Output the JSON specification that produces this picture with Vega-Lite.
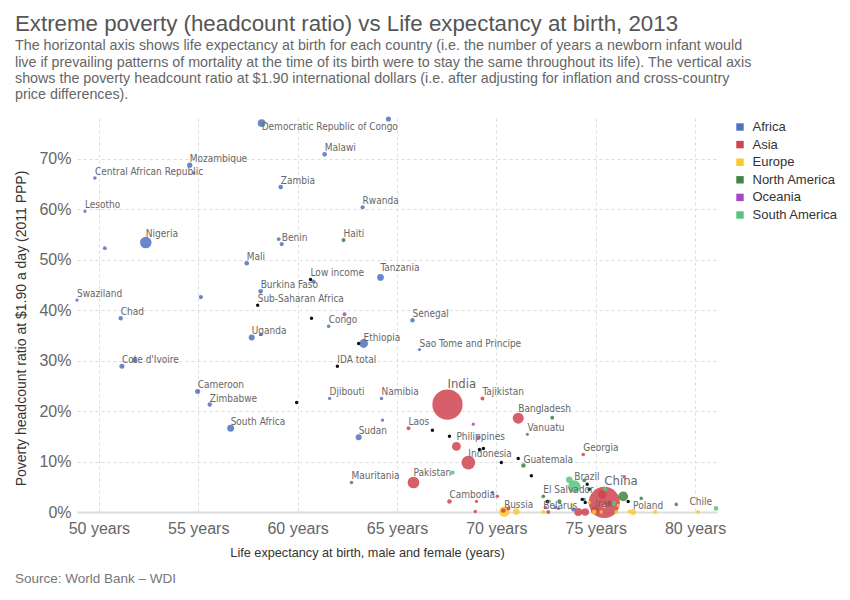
{
  "$schema": "https://vega.github.io/schema/vega-lite/v6.json",
  "description": "Extreme poverty vs life expectancy, 2013",
  "padding": {"left": 14, "top": 12, "right": 0, "bottom": 0},
  "title": {
    "text": "Extreme poverty (headcount ratio) vs Life expectancy at birth, 2013",
    "subtitle": [
      "The horizontal axis shows life expectancy at birth for each country (i.e. the number of years a newborn infant would",
      "live if prevailing patterns of mortality at the time of its birth were to stay the same throughout its life). The vertical axis",
      "shows the poverty headcount ratio at $1.90 international dollars (i.e. after adjusting for inflation and cross-country",
      "price differences)."
    ],
    "anchor": "start",
    "frame": "bounds",
    "fontSize": 22.3,
    "fontWeight": "normal",
    "color": "#555",
    "subtitleFontSize": 14.3,
    "subtitleColor": "#666",
    "subtitleLineHeight": 16.3,
    "subtitlePadding": 4,
    "offset": 14
  },
  "datasets": {
    "countries": [
      {"c": "Democratic Republic of Congo", "g": "Africa", "le": 58.19, "pov": 77.1, "pop": 72, "label": "Democratic Republic of Congo"},
      {"c": "Madagascar", "g": "Africa", "le": 64.57, "pov": 77.9, "pop": 23},
      {"c": "Malawi", "g": "Africa", "le": 61.36, "pov": 70.9, "pop": 16, "label": "Malawi"},
      {"c": "Mozambique", "g": "Africa", "le": 54.57, "pov": 68.75, "pop": 26, "label": "Mozambique"},
      {"c": "Guinea-Bissau", "g": "Africa", "le": 54.77, "pov": 67.2, "pop": 1.7},
      {"c": "Central African Republic", "g": "Africa", "le": 49.8, "pov": 66.2, "pop": 4.6, "label": "Central African Republic"},
      {"c": "Zambia", "g": "Africa", "le": 59.15, "pov": 64.4, "pop": 15, "label": "Zambia"},
      {"c": "Rwanda", "g": "Africa", "le": 63.27, "pov": 60.4, "pop": 11, "label": "Rwanda"},
      {"c": "Lesotho", "g": "Africa", "le": 49.3, "pov": 59.6, "pop": 2, "label": "Lesotho"},
      {"c": "Sierra Leone", "g": "Africa", "le": 50.3, "pov": 52.3, "pop": 6},
      {"c": "Nigeria", "g": "Africa", "le": 52.36, "pov": 53.4, "pop": 173, "label": "Nigeria"},
      {"c": "Togo", "g": "Africa", "le": 59.05, "pov": 54.1, "pop": 7},
      {"c": "Benin", "g": "Africa", "le": 59.2, "pov": 53.1, "pop": 10, "label": "Benin"},
      {"c": "Mali", "g": "Africa", "le": 57.44, "pov": 49.3, "pop": 16, "label": "Mali"},
      {"c": "Tanzania", "g": "Africa", "le": 64.17, "pov": 46.5, "pop": 49, "label": "Tanzania"},
      {"c": "Burundi", "g": "Africa", "le": 60.8, "pov": 45.7, "pop": 10},
      {"c": "Burkina Faso", "g": "Africa", "le": 58.14, "pov": 43.75, "pop": 17, "label": "Burkina Faso"},
      {"c": "Guinea", "g": "Africa", "le": 55.13, "pov": 42.6, "pop": 12},
      {"c": "Swaziland", "g": "Africa", "le": 48.9, "pov": 42.0, "pop": 1.2, "label": "Swaziland"},
      {"c": "Chad", "g": "Africa", "le": 51.1, "pov": 38.4, "pop": 13, "label": "Chad"},
      {"c": "Congo", "g": "Africa", "le": 61.56, "pov": 36.8, "pop": 4.4, "label": "Congo"},
      {"c": "Senegal", "g": "Africa", "le": 65.78, "pov": 38.0, "pop": 14, "label": "Senegal"},
      {"c": "Uganda", "g": "Africa", "le": 57.69, "pov": 34.6, "pop": 37, "label": "Uganda"},
      {"c": "Liberia", "g": "Africa", "le": 58.14, "pov": 35.2, "pop": 4.3},
      {"c": "Ethiopia", "g": "Africa", "le": 63.32, "pov": 33.4, "pop": 95, "label": "Ethiopia"},
      {"c": "Sao Tome and Principe", "g": "Africa", "le": 66.13, "pov": 32.2, "pop": 0.19, "label": "Sao Tome and Principe"},
      {"c": "Cote d'Ivoire", "g": "Africa", "le": 51.16, "pov": 28.9, "pop": 22, "label": "Cote d'Ivoire"},
      {"c": "Angola", "g": "Africa", "le": 51.8, "pov": 30.1, "pop": 25},
      {"c": "Cameroon", "g": "Africa", "le": 54.97, "pov": 23.9, "pop": 22, "label": "Cameroon"},
      {"c": "Zimbabwe", "g": "Africa", "le": 55.58, "pov": 21.3, "pop": 14, "label": "Zimbabwe"},
      {"c": "South Africa", "g": "Africa", "le": 56.63, "pov": 16.6, "pop": 53, "label": "South Africa"},
      {"c": "Djibouti", "g": "Africa", "le": 61.61, "pov": 22.5, "pop": 0.9, "label": "Djibouti"},
      {"c": "Namibia", "g": "Africa", "le": 64.22, "pov": 22.5, "pop": 2.3, "label": "Namibia"},
      {"c": "Botswana", "g": "Africa", "le": 64.27, "pov": 18.2, "pop": 2},
      {"c": "Sudan", "g": "Africa", "le": 63.07, "pov": 14.8, "pop": 37, "label": "Sudan"},
      {"c": "Mauritania", "g": "Africa", "le": 62.71, "pov": 5.85, "pop": 3.9, "label": "Mauritania"},
      {"c": "Cabo Verde", "g": "Africa", "le": 72.96, "pov": 0.9, "pop": 0.5},
      {"c": "Tunisia", "g": "Africa", "le": 73.87, "pov": 0.5, "pop": 11},
      {"c": "Mauritius", "g": "Africa", "le": 74.42, "pov": 2.5, "pop": 1.3},
      {"c": "India", "g": "Asia", "le": 67.54, "pov": 21.3, "pop": 1280, "label": "India"},
      {"c": "Laos", "g": "Asia", "le": 65.58, "pov": 16.6, "pop": 6.7, "label": "Laos"},
      {"c": "Tajikistan", "g": "Asia", "le": 69.3, "pov": 22.5, "pop": 8, "label": "Tajikistan"},
      {"c": "Philippines", "g": "Asia", "le": 67.99, "pov": 13.0, "pop": 98, "label": "Philippines"},
      {"c": "Kyrgyzstan", "g": "Asia", "le": 69.1, "pov": 14.8, "pop": 5.7},
      {"c": "Indonesia", "g": "Asia", "le": 68.59, "pov": 9.8, "pop": 250, "label": "Indonesia"},
      {"c": "Bangladesh", "g": "Asia", "le": 71.1, "pov": 18.6, "pop": 157, "label": "Bangladesh"},
      {"c": "Georgia", "g": "Asia", "le": 74.37, "pov": 11.4, "pop": 4.5, "label": "Georgia"},
      {"c": "Pakistan", "g": "Asia", "le": 65.83, "pov": 5.85, "pop": 180, "label": "Pakistan"},
      {"c": "Cambodia", "g": "Asia", "le": 67.64, "pov": 2.1, "pop": 15, "label": "Cambodia"},
      {"c": "Bhutan", "g": "Asia", "le": 69.0, "pov": 2.1, "pop": 0.75},
      {"c": "Mongolia", "g": "Asia", "le": 68.94, "pov": 0.1, "pop": 2.9},
      {"c": "Armenia", "g": "Asia", "le": 70.05, "pov": 3.1, "pop": 3},
      {"c": "Kazakhstan", "g": "Asia", "le": 70.35, "pov": 0.3, "pop": 17},
      {"c": "Azerbaijan", "g": "Asia", "le": 70.6, "pov": 0.7, "pop": 9.4},
      {"c": "China", "g": "Asia", "le": 75.43, "pov": 1.9, "pop": 1357, "label": "China"},
      {"c": "Vietnam", "g": "Asia", "le": 75.33, "pov": 3.5, "pop": 90},
      {"c": "Palestine", "g": "Asia", "le": 76.43, "pov": 7.0, "pop": 4.2},
      {"c": "Jordan", "g": "Asia", "le": 72.61, "pov": 0.0, "pop": 6.5},
      {"c": "Turkey", "g": "Asia", "le": 74.12, "pov": 0.0, "pop": 75},
      {"c": "Thailand", "g": "Asia", "le": 74.47, "pov": 0.0, "pop": 67},
      {"c": "Iran", "g": "Asia", "le": 74.97, "pov": 0.3, "pop": 77, "label": "Iran"},
      {"c": "Malaysia", "g": "Asia", "le": 75.68, "pov": 1.7, "pop": 29},
      {"c": "Russia", "g": "Europe", "le": 70.4, "pov": 0.1, "pop": 143, "label": "Russia"},
      {"c": "Ukraine", "g": "Europe", "le": 71.0, "pov": 0.1, "pop": 45},
      {"c": "Belarus", "g": "Europe", "le": 72.36, "pov": 0.0, "pop": 9.5, "label": "Belarus"},
      {"c": "Moldova", "g": "Europe", "le": 73.82, "pov": 1.3, "pop": 3.5},
      {"c": "Macedonia", "g": "Europe", "le": 74.67, "pov": 1.9, "pop": 2.1},
      {"c": "Romania", "g": "Europe", "le": 74.92, "pov": 0.0, "pop": 20},
      {"c": "Bosnia and Herzegovina", "g": "Europe", "le": 75.28, "pov": 0.0, "pop": 3.8},
      {"c": "Albania", "g": "Europe", "le": 75.43, "pov": 1.1, "pop": 2.9},
      {"c": "Hungary", "g": "Europe", "le": 76.03, "pov": 0.0, "pop": 9.9},
      {"c": "Latvia", "g": "Europe", "le": 76.13, "pov": 1.3, "pop": 2},
      {"c": "Lithuania", "g": "Europe", "le": 76.68, "pov": 0.1, "pop": 3},
      {"c": "Poland", "g": "Europe", "le": 76.88, "pov": 0.0, "pop": 38, "label": "Poland"},
      {"c": "Czech Republic", "g": "Europe", "le": 77.99, "pov": 0.0, "pop": 10.5},
      {"c": "Portugal", "g": "Europe", "le": 80.15, "pov": 0.0, "pop": 10.5},
      {"c": "Haiti", "g": "North America", "le": 62.31, "pov": 53.9, "pop": 10, "label": "Haiti"},
      {"c": "Honduras", "g": "North America", "le": 72.81, "pov": 18.7, "pop": 8},
      {"c": "Guatemala", "g": "North America", "le": 71.36, "pov": 9.2, "pop": 15, "label": "Guatemala"},
      {"c": "El Salvador", "g": "North America", "le": 72.36, "pov": 3.1, "pop": 6.3, "label": "El Salvador"},
      {"c": "Dominican Republic", "g": "North America", "le": 73.17, "pov": 2.1, "pop": 10},
      {"c": "Nicaragua", "g": "North America", "le": 74.42, "pov": 6.25, "pop": 6},
      {"c": "Mexico", "g": "North America", "le": 76.38, "pov": 3.1, "pop": 122},
      {"c": "Panama", "g": "North America", "le": 77.29, "pov": 2.7, "pop": 3.8},
      {"c": "Costa Rica", "g": "North America", "le": 79.05, "pov": 1.5, "pop": 4.8},
      {"c": "Papua New Guinea", "g": "Oceania", "le": 62.36, "pov": 39.2, "pop": 7.3},
      {"c": "Solomon Islands", "g": "Oceania", "le": 68.84, "pov": 17.4, "pop": 0.56},
      {"c": "Vanuatu", "g": "Oceania", "le": 71.56, "pov": 15.4, "pop": 0.25, "label": "Vanuatu"},
      {"c": "Fiji", "g": "Oceania", "le": 69.8, "pov": 3.9, "pop": 0.88},
      {"c": "Tonga", "g": "Oceania", "le": 72.46, "pov": 0.9, "pop": 0.1},
      {"c": "Samoa", "g": "Oceania", "le": 73.12, "pov": 0.7, "pop": 0.19},
      {"c": "Bolivia", "g": "South America", "le": 67.8, "pov": 7.8, "pop": 10.5},
      {"c": "Brazil", "g": "South America", "le": 73.92, "pov": 5.06, "pop": 200, "label": "Brazil"},
      {"c": "Colombia", "g": "South America", "le": 73.67, "pov": 6.4, "pop": 47},
      {"c": "Paraguay", "g": "South America", "le": 72.66, "pov": 2.1, "pop": 6.5},
      {"c": "Ecuador", "g": "South America", "le": 75.48, "pov": 4.5, "pop": 15.7},
      {"c": "Peru", "g": "South America", "le": 75.88, "pov": 1.7, "pop": 30},
      {"c": "Chile", "g": "South America", "le": 81.05, "pov": 0.7, "pop": 17.6, "label": "Chile"}
    ],
    "aggregates": [
      {"c": "Low income", "le": 60.65, "pov": 46.1, "label": "Low income"},
      {"c": "Sub-Saharan Africa", "le": 57.99, "pov": 41.0, "label": "Sub-Saharan Africa"},
      {"c": "Fragile and conflict affected situations", "le": 60.7, "pov": 38.4},
      {"c": "Least developed countries", "le": 63.07, "pov": 33.4},
      {"c": "IDA total", "le": 62.0, "pov": 28.9, "label": "IDA total"},
      {"c": "IDA only", "le": 59.95, "pov": 21.7},
      {"c": "South Asia", "le": 66.78, "pov": 16.2},
      {"c": "IDA blend", "le": 67.64, "pov": 15.0},
      {"c": "Lower middle income", "le": 69.35, "pov": 12.6},
      {"c": "Low & middle income", "le": 69.15, "pov": 12.4},
      {"c": "Middle income", "le": 70.25, "pov": 9.8},
      {"c": "World", "le": 71.1, "pov": 10.6},
      {"c": "IBRD only", "le": 71.76, "pov": 7.2},
      {"c": "Upper middle income", "le": 72.56, "pov": 2.1},
      {"c": "Latin America & Caribbean", "le": 74.57, "pov": 5.5},
      {"c": "Small states", "le": 74.67, "pov": 4.5},
      {"c": "East Asia & Pacific", "le": 74.32, "pov": 2.5},
      {"c": "Europe & Central Asia", "le": 74.47, "pov": 1.9},
      {"c": "Caribbean small states", "le": 76.63, "pov": 2.1}
    ]
  },
  "vconcat": [
    {
      "width": 640,
      "height": 394,
      "title": {
        "text": "Source: World Bank – WDI",
        "orient": "bottom",
        "anchor": "start",
        "frame": "bounds",
        "fontSize": 13.5,
        "fontWeight": "normal",
        "color": "#777",
        "offset": 13
      },
      "encoding": {
        "x": {
          "field": "le",
          "type": "quantitative",
          "scale": {"domain": [48.9, 81.1], "nice": false, "zero": false},
          "axis": {
            "title": "Life expectancy at birth, male and female (years)",
            "values": [50, 55, 60, 65, 70, 75, 80],
            "labelExpr": "datum.value + ' years'",
            "grid": true,
            "gridDash": [3, 3],
            "gridColor": "#ddd",
            "domainColor": "#ddd",
            "domainWidth": 2,
            "ticks": false,
            "labelFontSize": 16,
            "labelColor": "#666",
            "labelPadding": 8,
            "titleFontSize": 12.7,
            "titleFontWeight": "normal",
            "titleColor": "#333",
            "titlePadding": 10,
            "titleX": 290
          }
        },
        "y": {
          "field": "pov",
          "type": "quantitative",
          "scale": {"domain": [0, 78.1], "nice": false},
          "axis": {
            "title": "Poverty headcount ratio at $1.90 a day (2011 PPP)",
            "values": [0, 10, 20, 30, 40, 50, 60, 70],
            "labelExpr": "datum.value + '%'",
            "grid": true,
            "gridDash": [3, 3],
            "gridColor": "#ddd",
            "domain": false,
            "ticks": false,
            "labelFontSize": 16,
            "labelColor": "#666",
            "labelPadding": 6,
            "titleFontSize": 14,
            "titleFontWeight": "normal",
            "titleColor": "#333",
            "titlePadding": 10,
            "titleY": 210
          }
        }
      },
      "layer": [
        {
          "data": {"name": "countries"},
          "mark": {"type": "circle", "opacity": 0.85},
          "encoding": {
            "color": {
              "field": "g",
              "type": "nominal",
              "scale": {
                "domain": ["Africa", "Asia", "Europe", "North America", "Oceania", "South America"],
                "range": ["#4f72c2", "#d04350", "#ffc82a", "#3f8544", "#a24bc0", "#5ac47f"]
              },
              "legend": {
                "title": null,
                "orient": "right",
                "offset": 5,
                "symbolType": "square",
                "symbolSize": 55,
                "symbolOpacity": 1,
                "labelFontSize": 13,
                "labelColor": "#333",
                "labelOffset": 6,
                "rowPadding": 3.6,
                "padding": 2.5
              }
            },
            "size": {
              "field": "pop",
              "type": "quantitative",
              "scale": {"domain": [0, 1400], "range": [10, 1000]},
              "legend": null
            },
            "order": {"field": "pop", "type": "quantitative", "sort": "descending"}
          }
        },
        {
          "data": {"name": "aggregates"},
          "mark": {"type": "circle", "size": 12, "color": "#111", "opacity": 1}
        },
        {
          "data": {"name": "countries"},
          "transform": [
            {"filter": "datum.label && indexof(['India', 'China', 'Democratic Republic of Congo', 'Chile', 'Nigeria', 'Pakistan', 'Indonesia', 'Bangladesh', 'Philippines', 'Brazil', 'Tanzania'], datum.label) < 0"}
          ],
          "mark": {"type": "text", "align": "left", "baseline": "alphabetic", "dy": -3, "fontSize": 10, "font": "DejaVu Sans Condensed", "color": "#666"},
          "encoding": {"text": {"field": "label"}}
        },
        {
          "data": {"name": "aggregates"},
          "transform": [{"filter": "datum.label"}],
          "mark": {"type": "text", "align": "left", "baseline": "alphabetic", "dy": -3, "fontSize": 10, "font": "DejaVu Sans Condensed", "color": "#666"},
          "encoding": {"text": {"field": "label"}}
        },
        {
          "data": {"name": "countries"},
          "transform": [
            {"filter": "indexof(['Nigeria', 'Pakistan', 'Indonesia', 'Bangladesh', 'Philippines', 'Brazil', 'Tanzania'], datum.label) >= 0"}
          ],
          "mark": {"type": "text", "align": "left", "baseline": "alphabetic", "dy": -6, "fontSize": 10, "font": "DejaVu Sans Condensed", "color": "#666"},
          "encoding": {"text": {"field": "label"}}
        },
        {
          "data": {"name": "countries"},
          "transform": [{"filter": "datum.label == 'Democratic Republic of Congo'"}],
          "mark": {"type": "text", "align": "left", "baseline": "top", "dy": -1, "fontSize": 10, "font": "DejaVu Sans Condensed", "color": "#666"},
          "encoding": {"text": {"field": "label"}}
        },
        {
          "data": {"name": "countries"},
          "transform": [{"filter": "datum.label == 'Chile'"}],
          "mark": {"type": "text", "align": "right", "baseline": "alphabetic", "dx": -4, "dy": -3, "fontSize": 10, "font": "DejaVu Sans Condensed", "color": "#666"},
          "encoding": {"text": {"field": "label"}}
        },
        {
          "data": {"name": "countries"},
          "transform": [{"filter": "datum.label == 'India' || datum.label == 'China'"}],
          "mark": {"type": "text", "align": "left", "baseline": "alphabetic", "dy": -17, "fontSize": 13, "font": "DejaVu Sans Condensed", "color": "#666"},
          "encoding": {"text": {"field": "label"}}
        }
      ]
    }
  ],
  "config": {
    "font": "Liberation Sans",
    "view": {"stroke": null},
    "concat": {"spacing": 0}
  }
}
